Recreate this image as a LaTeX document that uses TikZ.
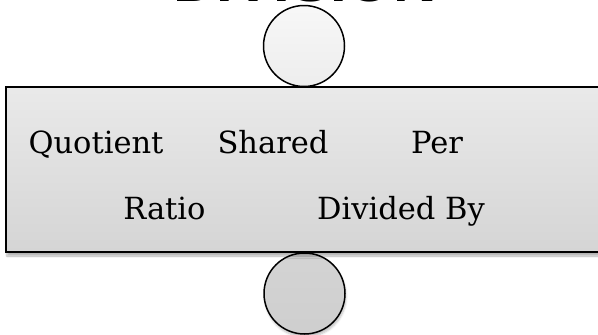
\documentclass[tikz,border=0pt]{standalone}
\usepackage{fontspec}
\setmainfont{DejaVu Serif}
\newfontfamily\headfont{Liberation Sans}
\usetikzlibrary{positioning,shadows.blur}

\tikzset{
  word/.style={anchor=base, inner sep=0pt, font=\fontsize{30.5}{36}\selectfont},
  ball/.style={circle, draw=black, line width=1.5pt, minimum size=81pt, inner sep=0pt},
  panel/.style={rectangle, draw=black, line width=1.6pt, inner sep=0pt,
    minimum width=600pt, minimum height=165pt,
    top color=gray!17, bottom color=gray!33,
    blur shadow={shadow xshift=1pt, shadow yshift=-4pt, shadow blur steps=6, shadow opacity=30}},
}

\begin{document}
\begin{tikzpicture}[x=1pt,y=-1pt]
	\useasboundingbox (0,0) rectangle (598,335);
	\node[anchor=base, inner sep=0pt, font=\headfont\bfseries\fontsize{60}{60}\selectfont] (title) at (305,1.5) {DIVISION};
	% top and bottom balls
	\node[ball, top color=gray!6, bottom color=gray!14] (topball) at (304,46) {};
	\node[ball, top color=gray!34, bottom color=gray!38,
	  blur shadow={shadow xshift=1pt, shadow yshift=-3pt, shadow blur steps=5, shadow opacity=25}] (lowball) at (304.5,293.5) {};
	\node[panel] (panel) at (306,169.5) {};
	% words
	\node[word] (quotient) at (96,153) {Quotient};
	\node[word] (shared) at (273,153) {Shared};
	\node[word] (per) at (437,153) {Per};
	\node[word] (ratio) at (164.5,219) {Ratio};
	\node[word] (divided) at (401,219) {Divided By};
\end{tikzpicture}
\end{document}
